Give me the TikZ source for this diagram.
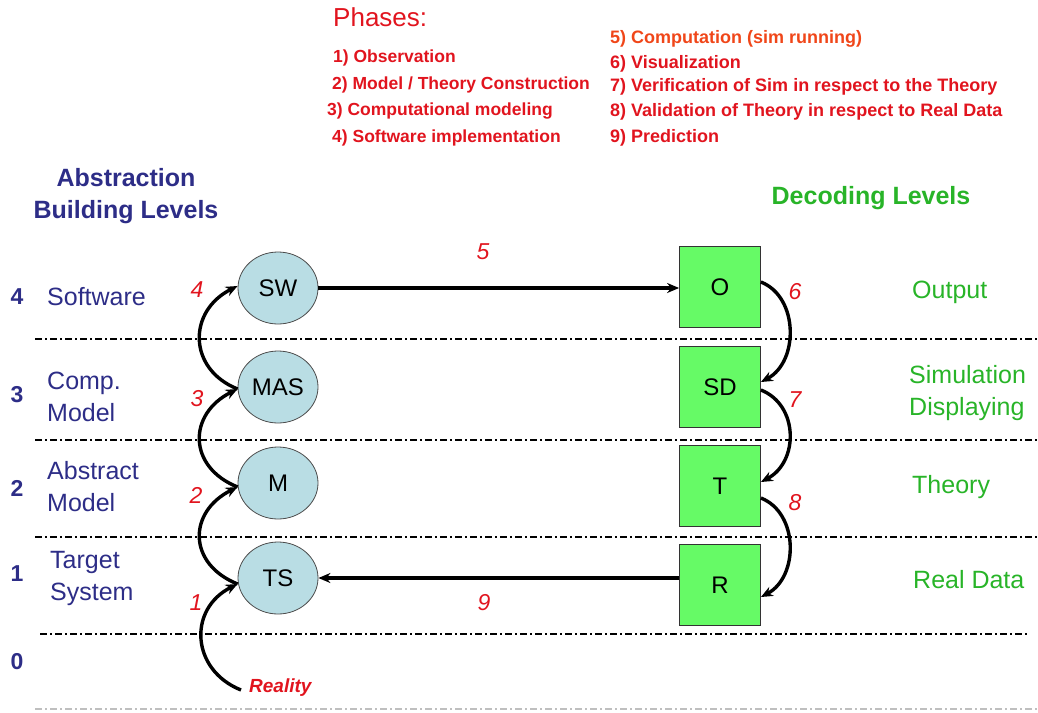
\documentclass[tikz,border=0pt]{standalone}
\usepackage{fontspec}
\setmainfont{Liberation Sans}
\usetikzlibrary{arrows.meta,shapes.geometric}
\definecolor{navytext}{RGB}{45,45,135}
\definecolor{greentext}{RGB}{40,180,40}
\definecolor{phasered}{RGB}{225,20,30}
\definecolor{phaseorange}{RGB}{240,70,25}
\definecolor{bubble}{RGB}{185,221,228}
\definecolor{boxgreen}{RGB}{102,250,102}
\newcommand{\fs}[2]{\fontsize{#1}{#2}\selectfont}
\tikzset{
  bubblenode/.style={ellipse, draw=black!70, line width=0.8pt, fill=bubble,
    minimum width=80pt, minimum height=72pt, inner sep=0pt, font=\fs{24}{28}},
  boxnode/.style={rectangle, draw=black!80, line width=0.8pt, fill=boxgreen,
    minimum width=81pt, minimum height=81pt, inner sep=0pt, font=\fs{24}{28}},
  phasenum/.style={text=phasered, font=\fs{23}{28}\itshape, inner sep=0pt},
  phaseitem/.style={anchor=base west, inner sep=0pt, font=\fs{17.5}{20}\bfseries},
  phaseitemR/.style={anchor=base west, inner sep=0pt, font=\fs{18}{20}\bfseries},
  levelnum/.style={text=navytext, font=\fs{23}{28}\bfseries, inner sep=0pt},
  levelname/.style={anchor=west, align=left, text=navytext, font=\fs{25}{32}, inner sep=0pt},
  decodename/.style={anchor=west, align=left, text=greentext, font=\fs{25}{32}, inner sep=0pt},
  sep/.style={line width=1.1pt, dash pattern=on 7pt off 3pt on 2pt off 3pt},
  flow/.style={line width=3.4pt, -{Stealth[length=12pt,width=10pt]}},
}
\begin{document}
\begin{tikzpicture}[x=1pt,y=-1pt]
\useasboundingbox (0,0) rectangle (1038,712);

% phase list
\node[anchor=base west, inner sep=0pt, text=phasered, font=\fs{26}{30}] (phases) at (333,26) {Phases:};
\node[phaseitem, text=phasered] (p1) at (333,62) {1) Observation};
\node[phaseitem, text=phasered] (p2) at (332,89) {2) Model / Theory Construction};
\node[phaseitem, text=phasered] (p3) at (327,115) {3) Computational modeling};
\node[phaseitem, text=phasered] (p4) at (332,142) {4) Software implementation};
\node[phaseitemR, text=phaseorange] (p5) at (610,43) {5) Computation (sim running)};
\node[phaseitemR, text=phasered] (p6) at (610,68) {6) Visualization};
\node[phaseitemR, text=phasered] (p7) at (610,91) {7) Verification of Sim in respect to the Theory};
\node[phaseitemR, text=phasered] (p8) at (610,116) {8) Validation of Theory in respect to Real Data};
\node[phaseitemR, text=phasered] (p9) at (610,142) {9) Prediction};

% column headings
\node[align=center, text=navytext, font=\fs{25}{32}\bfseries, inner sep=0pt] (abshead) at (126,196) {Abstraction\\Building Levels};
\node[text=greentext, font=\fs{25}{32}\bfseries, inner sep=0pt] (dechead) at (871,198) {Decoding Levels};

% level separators
\draw[sep] (35,339) -- (1038,339);
\draw[sep] (35,440) -- (1038,440);
\draw[sep] (35,537) -- (1038,537);
\draw[sep] (40,634) -- (1028,634);
\draw[sep, black!25] (35,709) -- (1038,709);

% abstraction levels
\node[levelnum] (l4) at (17,297) {4};
\node[levelnum] (l3) at (17,395) {3};
\node[levelnum] (l2) at (17,488) {2};
\node[levelnum] (l1) at (17,574) {1};
\node[levelnum] (l0) at (17,662) {0};
\node[levelname] (n4) at (47,297) {Software};
\node[levelname] (n3) at (47,397) {Comp.\\Model};
\node[levelname] (n2) at (47,487) {Abstract\\Model};
\node[levelname] (n1) at (50,578) {Target\\System};

% decoding levels
\node[decodename] (d4) at (912,292) {Output};
\node[decodename] (d3) at (909,393) {Simulation\\Displaying};
\node[decodename] (d2) at (912,487) {Theory};
\node[decodename] (d1) at (913,580) {Real Data};

% model chain
\node[bubblenode] (SW) at (278,288) {SW};
\node[bubblenode] (MAS) at (278,387) {MAS};
\node[bubblenode] (M) at (278,483) {M};
\node[bubblenode] (TS) at (278,578) {TS};
\coordinate (realstart) at (241,690);
\node[anchor=west, text=phasered, font=\fs{19}{22}\bfseries\itshape, inner sep=0pt] (reality) at (249,688) {Reality};

% decoding chain
\node[boxnode] (O) at (720,287) {O};
\node[boxnode] (SD) at (720,387) {SD};
\node[boxnode] (T) at (720,486) {T};
\node[boxnode] (R) at (720,585) {R};

% phase arrows
\draw[flow] (realstart) .. controls +(-50,-20) and +(-50,25) .. ([yshift=-6pt]TS.west);
\draw[flow] ([yshift=-6pt]TS.west) .. controls +(-50,-20) and +(-50,25) .. ([yshift=-4pt]M.west);
\draw[flow] ([yshift=-4pt]M.west) .. controls +(-50,-20) and +(-50,25) .. ([yshift=-2pt]MAS.west);
\draw[flow] ([yshift=-2pt]MAS.west) .. controls +(-50,-20) and +(-50,25) .. ([yshift=2pt]SW.west);
\draw[flow] (SW.east) -- (SW.east -| O.west);
\draw[flow] ([yshift=5pt]O.east) .. controls +(38,15) and +(38,-20) .. ([yshift=5pt]SD.east);
\draw[flow] ([yshift=-3pt]SD.east) .. controls +(38,15) and +(38,-20) .. ([yshift=4pt]T.east);
\draw[flow] ([yshift=-12pt]T.east) .. controls +(38,15) and +(38,-20) .. ([yshift=-12pt]R.east);
\draw[flow] (R.west |- TS.east) -- (TS.east);

% phase numbers
\node[phasenum] (f1) at (196,603) {1};
\node[phasenum] (f2) at (196,495) {2};
\node[phasenum] (f3) at (197,399) {3};
\node[phasenum] (f4) at (197,290) {4};
\node[phasenum] (f5) at (483,252) {5};
\node[phasenum] (f6) at (795,292) {6};
\node[phasenum] (f7) at (795,400) {7};
\node[phasenum] (f8) at (795,503) {8};
\node[phasenum] (f9) at (484,603) {9};
\end{tikzpicture}
\end{document}
